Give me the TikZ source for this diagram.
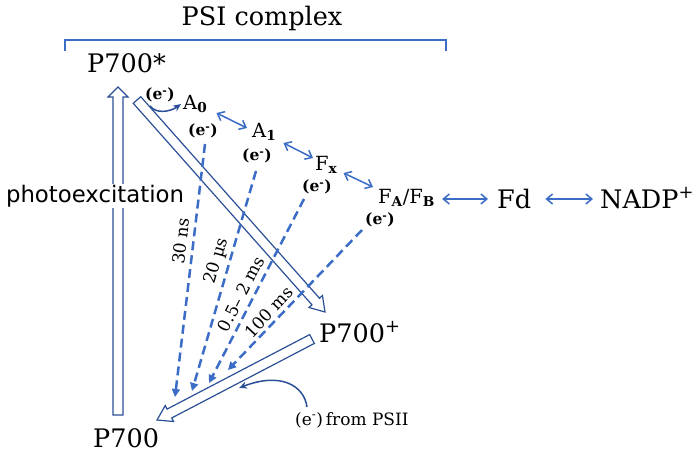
\documentclass[tikz,border=0pt]{standalone}
\usepackage{fontspec}
\setmainfont{DejaVu Serif}
\newfontfamily\gothic{DejaVu Sans}
\usetikzlibrary{arrows.meta,calc}
\definecolor{bm}{HTML}{3B6CC6}
\definecolor{nv}{HTML}{2B4F97}
\tikzset{
 txt/.style={inner sep=0pt, anchor=base west, font=\fontsize{25.5}{25.5}\selectfont},
 sm/.style={inner sep=0pt, anchor=base west, font=\fontsize{19.5}{19.5}\selectfont},
 elab/.style={inner sep=0pt, font=\fontsize{15.5}{15.5}\selectfont\bfseries},
 tlab/.style={inner sep=0pt, font=\fontsize{17}{17}\selectfont},
 dbl/.style={bm, line width=1.5pt, {Straight Barb[length=6pt,width=10pt]}-{Straight Barb[length=6pt,width=10pt]}},
 dsh/.style={bm, line width=2.5pt, dash pattern=on 9pt off 5pt, -{Triangle[length=8pt,width=8pt]}},
 hollow/.style={nv, line width=1.2pt, line join=miter},
 curv/.style={nv, line width=1.5pt, -{Stealth[length=8pt,width=7pt]}},
}
\newcommand\harr[6]{%
  \coordinate (#6) at ($(#2)!#5!(#1)$);
  \draw[hollow] ($(#1)!#3!90:(#2)$) -- ($(#6)!#3!90:(#2)$) -- ($(#6)!#4!90:(#2)$) -- (#2) -- ($(#6)!#4!-90:(#2)$) -- ($(#6)!#3!-90:(#2)$) -- ($(#1)!#3!-90:(#2)$) -- cycle;}
\begin{document}
\begin{tikzpicture}[x=1pt,y=-1pt]
\useasboundingbox (0,0) rectangle (700,452);
% title and bracket
\node[txt, anchor=base] (psi) at (262,26) {PSI complex};
\draw[bm, line width=2pt] (65,51) -- (65,40) -- (446,40) -- (446,51);
% main text nodes
\node[txt] (p700s) at (87,72) {P700*};
\node[sm] (a0) at (183,109) {A\textsubscript{\bfseries 0}};
\node[sm] (a1) at (252,137) {A\textsubscript{\bfseries 1}};
\node[sm] (fx) at (315,170) {F\textsubscript{\bfseries x}};
\node[sm] (fafb) at (378,203) {F\textsubscript{\bfseries A}/F\textsubscript{\bfseries B}};
\node[txt] (fd) at (497,208) {Fd};
\node[txt] (nadp) at (600,208) {NADP\textsuperscript{+}};
\node[txt] (p700p) at (319,342) {P700\textsuperscript{+}};
\node[txt] (p700) at (93,447) {P700};
% electron labels
\node[elab] (e0) at (160,95) {(e\textsuperscript{-})};
\node[elab] (e1) at (203,131) {(e\textsuperscript{-})};
\node[elab] (e2) at (257,156) {(e\textsuperscript{-})};
\node[elab] (e3) at (317,187) {(e\textsuperscript{-})};
\node[elab] (e4) at (380,220) {(e\textsuperscript{-})};
\node[tlab, anchor=base west] (psii) at (295,425) {(e\textsuperscript{-})\,from PSII};
% hollow arrows
\coordinate (vb) at ($(p700.base west)+(25,-32)$);
\coordinate (vt) at ($(p700s.base west)+(31,15)$);
\harr{vb}{vt}{5pt}{10pt}{10pt}{vh}
\coordinate (ds) at ($(p700s.base west)+(50,28)$);
\coordinate (dt) at ($(p700p.base west)+(6,-30)$);
\harr{ds}{dt}{5pt}{9pt}{14pt}{dh}
\coordinate (ss) at ($(p700p.base west)+(-7,-3)$);
\coordinate (st) at ($(p700.base west)+(64,-27)$);
\harr{ss}{st}{5pt}{9pt}{14pt}{sh}
% photoexcitation label
\node[inner sep=1pt, fill=white, font=\gothic\fontsize{22.8}{22.8}\selectfont, anchor=base] (photo) at (95,202) {photoexcitation};
% curved electron arrows
\draw[curv] ($(p700s.base west)+(63,34)$) .. controls (156,114) and (170,112) .. ($(a0.base west)+(-2,-5)$);
\coordinate (pin) at (239,388);
\draw[curv] ($(psii.base west)+(12,-18)$) .. controls (304,385) and (280,372) .. (pin);
% forward transfer arrows
\draw[dbl] ($(a0.base east)+(9,4)$) -- ($(a1.base west)+(-5,-9)$);
\draw[dbl] ($(a1.base east)+(7,6)$) -- ($(fx.base west)+(-2,-12)$);
\draw[dbl] ($(fx.base east)+(6,3)$) -- ($(fafb.base west)+(-5,-16)$);
\draw[dbl] ($(fafb.base east)+(7,-4)$) -- ($(fd.base west)+(-9,-9)$);
\draw[dbl] ($(fd.base east)+(14,-9)$) -- ($(nadp.base west)+(-7,-9)$);
% recombination arrows
\draw[dsh] ($(e1)+(2,13)$) -- ($(p700.base west)+(82,-50)$);
\draw[dsh] ($(e2)+(-1,15)$) -- ($(p700.base west)+(99,-56)$);
\draw[dsh] ($(e3)+(-13,12)$) -- ($(p700.base west)+(116,-64)$);
\draw[dsh] ($(e4)+(-18,10)$) -- ($(p700.base west)+(135,-77)$);
% lifetimes
\node[tlab, rotate=83] (l1) at (181,241) {30 ns};
\node[tlab, rotate=74] (l2) at (217,261) {20 µs};
\node[tlab, rotate=63] (l3) at (241,294) {0.5– 2 ms};
\node[tlab, rotate=47] (l4) at (269,312) {100 ms};
\end{tikzpicture}
\end{document}
